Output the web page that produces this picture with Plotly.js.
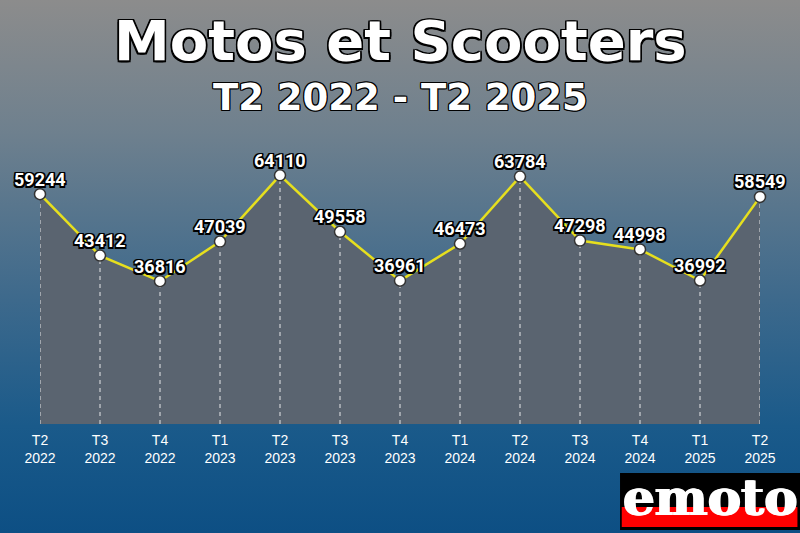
<!DOCTYPE html>
<html>
<head>
<meta charset="utf-8">
<script src="https://cdn.plot.ly/plotly-3.0.1.min.js"></script>
<style>
html,body{margin:0;padding:0;}
#chart{width:800px;height:533px;background:linear-gradient(to bottom,#8c8c8c 0%,#6e808e 25%,#3f6a8c 55%,#1a5a8a 80%,#0d4f84 100%);}
</style>
</head>
<body>
<div id="chart"></div>
<script>
var quarters = ["T2","T3","T4","T1","T2","T3","T4","T1","T2","T3","T4","T1","T2"];
var years = ["2022","2022","2022","2023","2023","2023","2023","2024","2024","2024","2024","2025","2025"];
var values = [59244,43412,36816,47039,64110,49558,36961,46473,63784,47298,44998,36992,58549];
var titleText = "Motos et Scooters";
var subtitleText = "T2 2022 - T2 2025";

var idx = values.map(function(v,i){return i;});
var tickText = quarters.map(function(q,i){return q + "<br>" + years[i];});
var outline = "-1px -1px 0 #000, 1px -1px 0 #000, -1px 1px 0 #000, 1px 1px 0 #000, 0 1px 0 #000, 0 -1px 0 #000, 1px 0 0 #000, -1px 0 0 #000";
var outline15 = "-1.5px -1.5px 0 #000, 1.5px -1.5px 0 #000, -1.5px 1.5px 0 #000, 1.5px 1.5px 0 #000, 0 1.5px 0 #000, 0 -1.5px 0 #000, 1.5px 0 0 #000, -1.5px 0 0 #000";

var fillTrace = {
  x: idx, y: values, type: "scatter", mode: "none",
  fill: "tozeroy", fillcolor: "rgba(90,100,112,1)", hoverinfo: "skip", showlegend: false
};
// vertical dashed drop lines built from the data
var dropX = [], dropY = [];
values.forEach(function(v,i){ dropX.push(i,i,null); dropY.push(0,v,null); });
var dropTrace = {
  x: dropX, y: dropY, type: "scatter", mode: "lines",
  line: {color: "rgba(255,255,255,0.85)", width: 1, dash: "4px,4px"},
  hoverinfo: "skip", showlegend: false
};
var lineTrace = {
  x: idx, y: values, type: "scatter", mode: "lines+markers",
  line: {color: "#e6df1e", width: 2.5},
  marker: {size: 11, color: "#ffffff", line: {color: "#333333", width: 1.5}},
  cliponaxis: false, showlegend: false
};

// plot area: x 40..760 px, y 150..424 px
var shapes = [
  {type: "rect", xref: "paper", yref: "paper", x0: 0.8056, x1: 1.0556, y0: -0.387, y1: -0.179,
   fillcolor: "#000000", line: {width: 0}},
  {type: "rect", xref: "paper", yref: "paper", x0: 0.808, x1: 1.052, y0: -0.376, y1: -0.303,
   fillcolor: "#ff0000", line: {width: 0}}
];

var annotations = [
  {xref: "paper", yref: "paper", x: 0.5, y: 1.401, xanchor: "center", yanchor: "middle",
   text: titleText, showarrow: false,
   font: {family: "DejaVu Sans", size: 56, color: "#ffffff", weight: 700, shadow: outline15}},
  {xref: "paper", yref: "paper", x: 0.5, y: 1.193, xanchor: "center", yanchor: "middle",
   text: subtitleText, showarrow: false,
   font: {family: "DejaVu Sans", size: 37, color: "#ffffff", weight: 700, shadow: outline}},
  {xref: "paper", yref: "paper", x: 0.931, y: -0.27, xanchor: "center", yanchor: "middle",
   text: "emoto", showarrow: false,
   font: {family: "DejaVu Serif", size: 50, color: "#ffffff", weight: 900, shadow: "1px 0 0 #fff, -1px 0 0 #fff"}}
];
values.forEach(function(v,i){
  annotations.push({xref: "x", yref: "y", x: i, y: v, xanchor: "center", yanchor: "middle",
    yshift: 15, text: String(v), showarrow: false,
    font: {family: "Roboto, sans-serif", size: 18, color: "#ffffff", weight: 700, shadow: outline15}});
});

var layout = {
  width: 800, height: 533,
  margin: {l: 40, r: 40, t: 150, b: 109},
  paper_bgcolor: "rgba(0,0,0,0)", plot_bgcolor: "rgba(0,0,0,0)",
  xaxis: {range: [0, 12], tickmode: "array", tickvals: idx, ticktext: tickText,
    showgrid: false, zeroline: false, showline: false, ticks: "", ticklabelstandoff: 6,
    tickfont: {family: "Liberation Sans, Arial, sans-serif", size: 14, color: "#ffffff"}},
  yaxis: {range: [0, 70640], visible: false, showgrid: false, zeroline: false},
  shapes: shapes,
  annotations: annotations
};

Plotly.newPlot("chart", [fillTrace, dropTrace, lineTrace], layout, {displayModeBar: false, staticPlot: true});
</script>
</body>
</html>
